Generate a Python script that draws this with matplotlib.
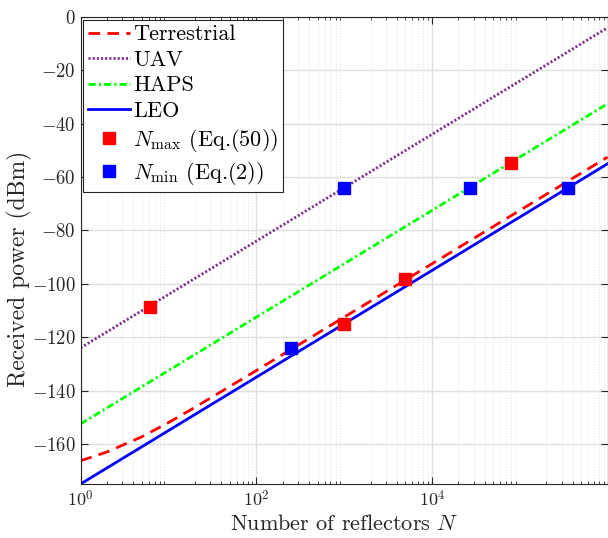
import numpy as np
import matplotlib
matplotlib.use('Agg')
import matplotlib.pyplot as plt
from matplotlib.ticker import LogLocator, NullFormatter

plt.rcParams['font.family'] = 'cmr10'
plt.rcParams['mathtext.fontset'] = 'cm'
plt.rcParams['axes.unicode_minus'] = False
plt.rcParams['axes.formatter.use_mathtext'] = True

# curves (received power in dBm vs number of reflectors)
n_line = [1, 1e6]
p_uav = [-124, -4]
p_haps = [-152.5, -32.5]
p_leo = [-175, -55]

n_terr = [1, 2, 5, 10, 20, 100, 1000, 1e4, 1e5, 1e6]
p_terr = [-166.3, -163, -157.3, -152, -146.3, -132.5, -112.5, -92.5, -72.5, -52.5]

# marker points
n_max = [6.2, 1000, 4900, 8e4]
p_max = [-108.6, -115.2, -98.2, -54.6]
n_min = [1000, 251, 2.7e4, 3.5e5]
p_min = [-64, -124, -64, -64]

dark = '#262626'

fig = plt.figure(figsize=(6.08, 5.38), dpi=100)
ax = fig.add_axes([0.1325, 0.1004, 0.8668, 0.868])

ax.plot(n_terr, p_terr, color='#FF0000', ls=(0, (4.2, 2.6)), lw=2, label='Terrestrial')
ax.plot(n_line, p_uav, color='#7E2F8E', ls=(0, (0.75, 0.75)), lw=2, label='UAV')
ax.plot(n_line, p_haps, color='#00FF00', ls=(0, (2.6, 1.1, 0.8, 1.1)), lw=2, label='HAPS')
ax.plot(n_line, p_leo, color='#0000FF', ls='-', lw=2, label='LEO')
ax.plot(n_max, p_max, 's', color='#FF0000', ms=8.5, label=r'$N_{\max}$ (Eq.(50))')
ax.plot(n_min, p_min, 's', color='#0000FF', ms=8.5, label=r'$N_{\min}$ (Eq.(2))')

ax.set_xscale('log')
ax.set_xlim(1, 1e6)
ax.set_ylim(-175, 0)
ax.set_xticks([1, 1e2, 1e4, 1e6])
ax.set_xticklabels([r'$10^0$', r'$10^2$', r'$10^4$', ''])
ax.xaxis.set_minor_locator(LogLocator(base=10, subs=np.arange(2, 10), numticks=50))
ax.xaxis.set_minor_formatter(NullFormatter())
ax.set_yticks(np.arange(-160, 1, 20))

ax.grid(True, which='major', color='#e0e0e0', lw=1.0)
ax.grid(True, which='minor', axis='x', color='#dadada', lw=0.5, ls=(0, (1.5, 2.5)))
ax.set_axisbelow(True)

ax.tick_params(which='both', direction='in', top=True, right=True, colors=dark,
               labelsize=13)
ax.tick_params(axis='y', labelsize=13.5)
ax.tick_params(which='major', length=5)
ax.tick_params(which='minor', length=2.5)
for s in ax.spines.values():
    s.set_color(dark)

ax.set_xlabel(r'Number of reflectors $N$', fontsize=16, color=dark, labelpad=3)
ax.set_ylabel('Received power (dBm)', fontsize=17, color=dark)
ax.yaxis.set_label_coords(-0.092, 0.46)

leg = ax.legend(loc='upper left', fontsize=16, frameon=True, fancybox=False,
                edgecolor=dark, framealpha=1, handlelength=1.87, handletextpad=0.15,
                borderaxespad=0.13, labelspacing=0.27, borderpad=0.22)
leg.get_frame().set_linewidth(0.8)

fig.savefig('out.png', dpi=100)
